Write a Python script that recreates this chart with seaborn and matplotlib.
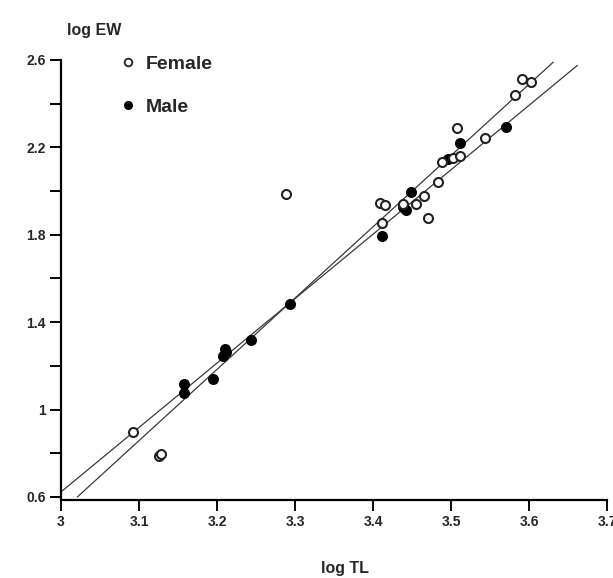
import numpy as np
import matplotlib
matplotlib.use("Agg")
import matplotlib.pyplot as plt
import seaborn as sns
from matplotlib.lines import Line2D

# ---- data ----
female_tl = [3.092, 3.125, 3.128, 3.288, 3.409, 3.416, 3.411, 3.438, 3.455, 3.466,
             3.471, 3.483, 3.488, 3.503, 3.512, 3.508, 3.544, 3.582, 3.591, 3.602]
female_ew = [0.899, 0.787, 0.795, 1.988, 1.945, 1.935, 1.856, 1.943, 1.940, 1.976,
             1.877, 2.041, 2.131, 2.150, 2.159, 2.288, 2.245, 2.441, 2.514, 2.499]

male_tl = [3.158, 3.158, 3.195, 3.208, 3.210, 3.212, 3.243, 3.293, 3.411, 3.449,
           3.442, 3.438, 3.496, 3.512, 3.570]
male_ew = [1.117, 1.077, 1.138, 1.245, 1.275, 1.262, 1.318, 1.481, 1.795, 1.996,
           1.915, 1.925, 2.145, 2.220, 2.293]

# regression lines: log EW = a + b * (log TL - x0), drawn from x_start to x_end
line_x0 = [3.000, 3.021]
line_a = [0.623, 0.600]
line_b = [2.949, 3.262]
line_x_end = [3.662, 3.631]

x_ticks = [3.0, 3.1, 3.2, 3.3, 3.4, 3.5, 3.6, 3.7]
x_ticklabels = ["3", "3.1", "3.2", "3.3", "3.4", "3.5", "3.6", "3.7"]
y_ticks = [0.6, 0.8, 1.0, 1.2, 1.4, 1.6, 1.8, 2.0, 2.2, 2.4, 2.6]
y_ticklabels = ["0.6", "", "1", "", "1.4", "", "1.8", "", "2.2", "", "2.6"]

# ---- style ----
sns.set_style("white")
plt.rcParams["font.family"] = ["Liberation Sans", "DejaVu Sans"]
plt.rcParams["font.weight"] = "bold"

fig = plt.figure(figsize=(6.13, 5.78), dpi=100)
ax = fig.add_axes([61 / 613, 78 / 578, 546 / 613, 440 / 578])

for x0, a, b, xe in zip(line_x0, line_a, line_b, line_x_end):
    xs = np.array([x0, xe])
    ax.plot(xs, a + b * (xs - x0), color="#3a3a3a", lw=0.9, zorder=1)

sns.scatterplot(x=male_tl, y=male_ew, ax=ax, marker="o", s=48, color="black",
                edgecolor="black", linewidth=1.0, zorder=3)
sns.scatterplot(x=female_tl, y=female_ew, ax=ax, marker="o", s=42, facecolor="white",
                edgecolor="#222222", linewidth=1.5, zorder=4)

ax.set_xlim(3.0, 3.7)
ax.set_ylim(0.586, 2.6)
ax.set_xticks(x_ticks)
ax.set_xticklabels(x_ticklabels)
ax.set_yticks(y_ticks)
ax.set_yticklabels(y_ticklabels)

for side in ["top", "right"]:
    ax.spines[side].set_visible(False)
for side in ["left", "bottom"]:
    ax.spines[side].set_linewidth(1.6)
    ax.spines[side].set_color("black")

ax.tick_params(axis="both", direction="out", length=8, width=1.4, color="black",
               labelsize=10, pad=3, left=True, bottom=True)
for lab in ax.get_xticklabels() + ax.get_yticklabels():
    lab.set_fontweight("bold")

ax.set_xlabel("log TL", fontsize=11.5, fontweight="bold", va="center")
ax.xaxis.set_label_coords(0.52, -0.155)
ax.set_ylabel("log EW", fontsize=11.5, fontweight="bold", rotation=0,
              ha="center", va="center")
ax.yaxis.set_label_coords(0.06, 1.066)

handles = [
    Line2D([], [], marker="o", linestyle="none", markersize=5.5, markerfacecolor="white",
           markeredgecolor="#222222", markeredgewidth=1.3),
    Line2D([], [], marker="o", linestyle="none", markersize=5.5, markerfacecolor="black",
           markeredgecolor="black"),
]
leg = ax.legend(handles, ["Female", "Male"], loc="upper left",
                bbox_to_anchor=(0.077, 1.051), frameon=False,
                prop={"family": "Liberation Sans", "weight": "bold", "size": 14},
                handlelength=0.8, handletextpad=0.5, labelspacing=1.3)

fig.savefig("out.png", dpi=100)
